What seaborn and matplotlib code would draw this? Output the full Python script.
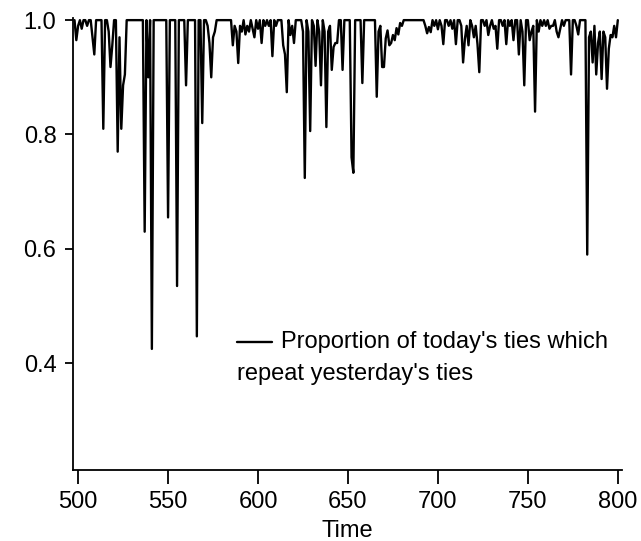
import numpy as np
import pandas as pd
import seaborn as sns
import matplotlib
matplotlib.use("Agg")
import matplotlib.pyplot as plt
from matplotlib.lines import Line2D

# Time steps 498 .. 800
time_start, time_end = 498, 800

# Proportion of today's ties that repeat yesterday's ties, one value per step
share_498_597 = [
    1.0, 0.965, 0.99, 1.0, 0.985, 1.0, 1.0, 0.99, 1.0, 1.0,
    0.97, 0.94, 1.0, 1.0, 1.0, 1.0, 0.81, 1.0, 1.0, 0.98,
    0.918, 0.956, 1.0, 1.0, 0.77, 0.97, 0.81, 0.886, 0.905, 1.0,
    1.0, 1.0, 1.0, 1.0, 1.0, 1.0, 1.0, 1.0, 1.0, 0.63,
    1.0, 0.9, 1.0, 0.425, 1.0, 1.0, 1.0, 1.0, 1.0, 1.0,
    1.0, 1.0, 0.655, 1.0, 1.0, 1.0, 1.0, 0.535, 1.0, 1.0,
    1.0, 1.0, 0.886, 1.0, 1.0, 1.0, 1.0, 1.0, 0.447, 1.0,
    1.0, 0.82, 1.0, 1.0, 0.99, 0.96, 0.90, 0.97, 0.98, 1.0,
    1.0, 1.0, 1.0, 1.0, 1.0, 1.0, 1.0, 1.0, 0.956, 0.99,
    0.98, 0.925, 0.99, 0.98, 1.0, 0.975, 0.99, 0.98, 1.0, 0.985,
]
share_598_697 = [
    0.97, 1.0, 0.985, 1.0, 0.96, 1.0, 0.99, 1.0, 0.99, 1.0,
    0.937, 1.0, 0.99, 1.0, 1.0, 1.0, 0.956, 0.94, 0.874, 1.0,
    0.974, 0.99, 0.96, 1.0, 1.0, 1.0, 1.0, 0.98, 0.724, 1.0,
    0.98, 0.806, 1.0, 0.99, 0.92, 1.0, 0.98, 0.886, 1.0, 0.98,
    0.813, 0.98, 0.99, 0.913, 0.953, 0.96, 0.96, 1.0, 1.0, 0.913,
    1.0, 1.0, 1.0, 1.0, 0.76, 0.733, 1.0, 1.0, 1.0, 1.0,
    0.89, 1.0, 1.0, 1.0, 1.0, 1.0, 1.0, 1.0, 0.866, 0.98,
    0.99, 0.918, 0.918, 0.968, 0.982, 0.956, 0.96, 0.974, 0.965, 0.986,
    0.975, 0.995, 0.99, 1.0, 1.0, 1.0, 1.0, 1.0, 1.0, 1.0,
    1.0, 1.0, 1.0, 1.0, 1.0, 0.99, 0.977, 0.988, 0.979, 1.0,
]
share_698_800 = [
    0.99, 1.0, 0.984, 1.0, 0.99, 0.958, 1.0, 1.0, 0.99, 1.0,
    0.985, 1.0, 0.958, 1.0, 1.0, 0.99, 0.926, 0.967, 0.99, 0.956,
    1.0, 0.99, 0.97, 0.99, 0.958, 0.909, 1.0, 1.0, 0.99, 1.0,
    0.974, 0.99, 1.0, 0.985, 0.99, 0.95, 1.0, 1.0, 0.99, 1.0,
    0.958, 1.0, 0.99, 1.0, 0.965, 1.0, 1.0, 0.94, 1.0, 0.98,
    0.886, 1.0, 1.0, 0.965, 0.98, 0.99, 0.84, 1.0, 0.98, 1.0,
    0.99, 1.0, 0.99, 1.0, 0.985, 0.99, 0.99, 1.0, 0.98, 0.97,
    0.985, 1.0, 0.99, 1.0, 1.0, 1.0, 0.905, 1.0, 1.0, 0.99,
    0.975, 1.0, 1.0, 1.0, 1.0, 0.59, 0.97, 0.98, 0.926, 0.99,
    0.905, 0.96, 0.98, 0.897, 0.98, 0.97, 0.88, 0.95, 0.974, 0.97,
    0.99, 0.97, 1.0,
]

x_ticks = [500, 550, 600, 650, 700, 750, 800]
y_ticks = [0.4, 0.6, 0.8, 1.0]
legend_lines = ["Proportion of today's ties which", "repeat yesterday's ties"]

share = share_498_597 + share_598_697 + share_698_800
df = pd.DataFrame({"Time": np.arange(time_start, time_end + 1), "share": share})

sns.set_theme(style="ticks")
plt.rcParams["font.family"] = ["Liberation Sans", "DejaVu Sans"]
plt.rcParams["text.color"] = "black"
plt.rcParams["axes.labelcolor"] = "black"
FS = 17

fig = plt.figure(figsize=(6.41, 5.41), dpi=100)
ax = fig.add_axes([0.114, 0.131, 0.856, 0.836])

sns.lineplot(data=df, x="Time", y="share", color="black", linewidth=1.7, ax=ax)

ax.set_xlim(497.2, 802.2)
ax.set_ylim(0.213, 1.004)
ax.set_xticks(x_ticks)
ax.set_xticklabels([str(v) for v in x_ticks])
ax.set_yticks(y_ticks)
ax.set_yticklabels([f"{v:.1f}" for v in y_ticks])
ax.set_xlabel("Time", fontsize=FS, labelpad=5, color="black")
ax.set_ylabel("")

for side in ("top", "right"):
    ax.spines[side].set_visible(False)
for side in ("left", "bottom"):
    ax.spines[side].set_color("black")
    ax.spines[side].set_linewidth(1.3)

ax.tick_params(axis="x", direction="out", length=10, width=1.3, color="black",
               labelcolor="black", labelsize=FS, pad=5)
ax.tick_params(axis="y", direction="out", length=6, width=1.3, color="black",
               labelcolor="black", labelsize=FS, pad=6)

# Legend: line sample with the label wrapping beneath it
ly = 1 - 342 / 541
fig.add_artist(Line2D([237 / 641, 272 / 641], [ly, ly], color="black",
                      linewidth=1.7, transform=fig.transFigure))
fig.text(281 / 641, ly, legend_lines[0], fontsize=FS, va="center", ha="left",
         color="black")
fig.text(237 / 641, 1 - 374 / 541, legend_lines[1], fontsize=FS, va="center",
         ha="left", color="black")

fig.savefig("out.png", dpi=100)
